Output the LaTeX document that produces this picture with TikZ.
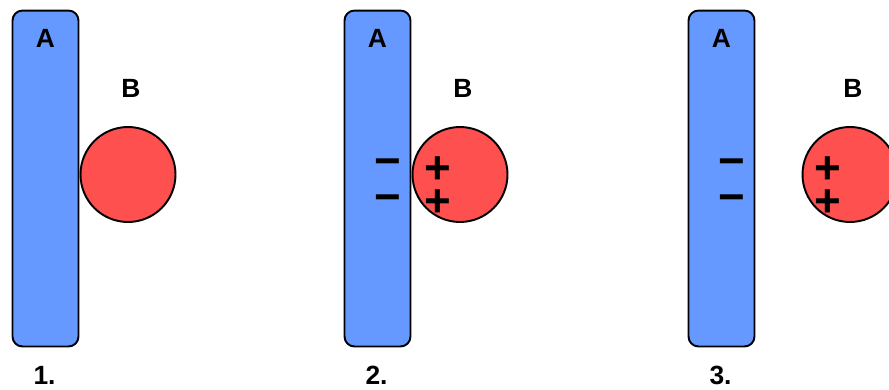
\documentclass[tikz,border=0pt]{standalone}
\usepackage{fontspec}
\setmainfont{Liberation Sans}
\usetikzlibrary{positioning}
\definecolor{plateblue}{RGB}{102,153,255}
\definecolor{ballred}{RGB}{255,80,80}
\tikzset{
  every node/.style={font=\bfseries\fontsize{15}{18}\selectfont},
  plate/.style={draw=black, fill=plateblue, rounded corners=0.2cm, line width=1.1pt, minimum width=1.32cm, minimum height=6.72cm, inner sep=0pt},
  ball/.style={draw=black, fill=ballred, circle, line width=1.1pt, minimum size=1.9cm, inner sep=0pt},
  lab/.style={anchor=base, inner sep=0pt},
  charge/.style={anchor=base, inner sep=0pt, font=\bfseries\fontsize{26}{30}\selectfont},
}

\begin{document}
\begin{tikzpicture}[x=0.02cm, y=-0.02cm]
  \useasboundingbox (0,0) rectangle (889,389);
  % ---- the three stages: plate A, ball B, labels ----------------------------
  \foreach \i/\px/\bx in {1/45.5/128, 2/377.5/460, 3/721.5/850} {
    \node[plate] (plate\i) at (\px,178.5) {};
    \node[ball] (ball\i) at (\bx,174.5) {};
    \node[lab] (labA\i) at (\px,47) {A};
    \node[lab] (labB\i) at (\bx+3,97) {B};
    \node[lab] (num\i) at (\px-1,384) {\i.};
  }

  % ---- induced charges -------------------------------------------------------
  \foreach \i/\px/\bx in {2/377.5/460, 3/721.5/850} {
    \node[charge] (negA\i) at (\px+10,176) {−};
    \node[charge] (negB\i) at (\px+10,212) {−};
    \node[charge] (posA\i) at (\bx-22.5,183) {+};
    \node[charge] (posB\i) at (\bx-22.5,216) {+};
  }
\end{tikzpicture}
\end{document}
